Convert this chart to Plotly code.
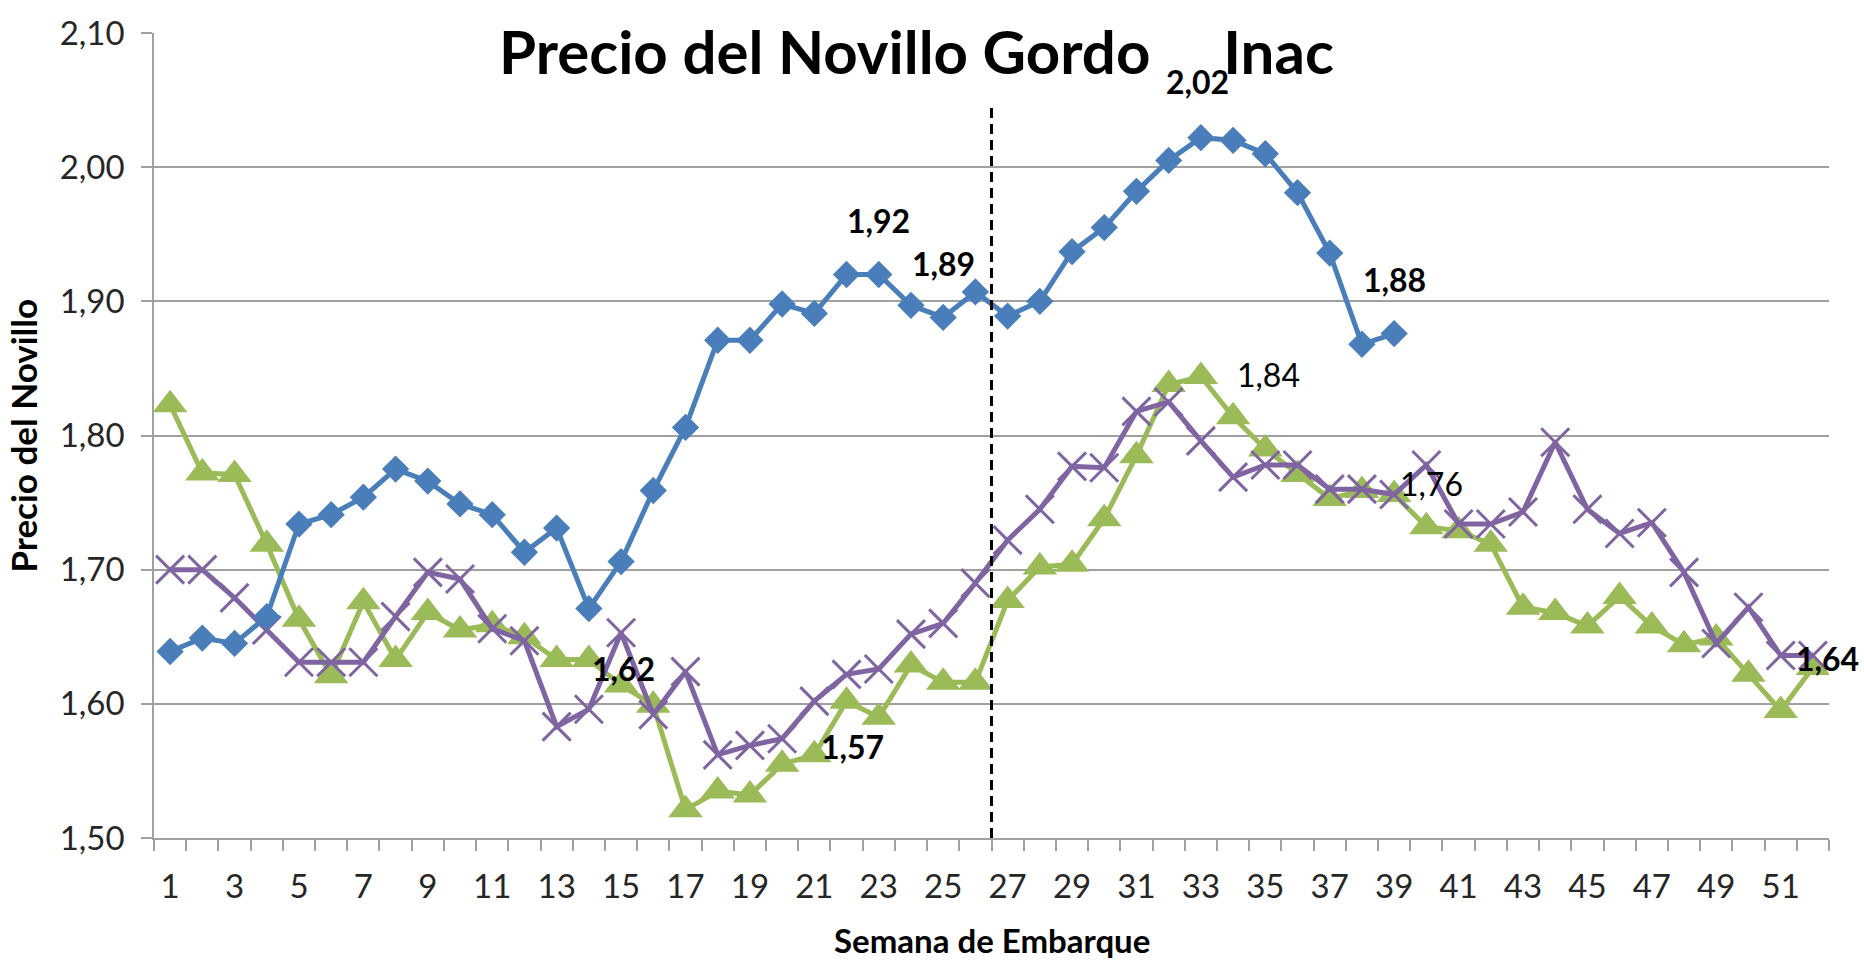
import plotly.graph_objects as go

# ---- data ----
weeks = list(range(1, 53))
tick_weeks = list(range(1, 52, 2))

serie_azul = [1.639, 1.649, 1.645, 1.665, 1.734, 1.741, 1.754, 1.775, 1.766, 1.749,
              1.741, 1.713, 1.731, 1.671, 1.706, 1.759, 1.806, 1.871, 1.871, 1.898,
              1.891, 1.920, 1.920, 1.897, 1.888, 1.907, 1.889, 1.900, 1.937, 1.955,
              1.982, 2.005, 2.022, 2.020, 2.010, 1.981, 1.936, 1.868, 1.876]

serie_verde = [1.823, 1.772, 1.771, 1.719, 1.663, 1.621, 1.676, 1.633, 1.668, 1.655,
               1.659, 1.650, 1.633, 1.633, 1.614, 1.599, 1.521, 1.535, 1.532, 1.555,
               1.562, 1.602, 1.590, 1.629, 1.616, 1.616, 1.677, 1.702, 1.704, 1.738,
               1.785, 1.838, 1.844, 1.814, 1.790, 1.771, 1.753, 1.759, 1.756, 1.732,
               1.729, 1.719, 1.672, 1.668, 1.658, 1.680, 1.658, 1.644, 1.649, 1.622,
               1.595, 1.627]

serie_violeta = [1.700, 1.700, 1.679, 1.655, 1.631, 1.631, 1.631, 1.665, 1.698, 1.693,
                 1.656, 1.647, 1.583, 1.596, 1.653, 1.592, 1.624, 1.562, 1.569, 1.574,
                 1.602, 1.622, 1.626, 1.652, 1.660, 1.690, 1.722, 1.745, 1.777, 1.776,
                 1.818, 1.825, 1.796, 1.769, 1.778, 1.778, 1.760, 1.760, 1.756, 1.778,
                 1.734, 1.734, 1.743, 1.795, 1.745, 1.727, 1.735, 1.698, 1.645, 1.672,
                 1.636, 1.636]

# data labels: (series, week, text)
label_series = ["azul", "azul", "azul", "azul", "verde", "verde", "verde", "verde", "violeta"]
label_weeks = [23, 25, 33, 39, 33, 39, 15, 21, 52]
label_texts = ["1,92", "1,89", "2,02", "1,88", "1,84", "1,76", "1,62", "1,57", "1,64"]

divider_week = 26.5
divider_top = 2.045

title_text = "Precio del Novillo Gordo" + "\u00a0" * 5 + "Inac"
x_title = "Semana de Embarque"
y_title = "Precio del Novillo"

# ---- styles ----
BLUE = "#4A7EBB"
GREEN = "#9BBB59"
PURPLE = "#8064A2"
GRID = "#A0A0A0"
FONT = "Lato"
series_map = {"azul": serie_azul, "verde": serie_verde, "violeta": serie_violeta}
# label offsets in px (xshift, yshift) and bold flags
label_shift = [(0, 54), (0, 54), (-3, 56), (0, 54), (68, 2), (37, 11), (2, 17), (38, 8), (15, -3)]
label_bold = [True, True, True, True, False, False, True, True, True]

fig = go.Figure()

fig.add_trace(go.Scatter(
    x=weeks[:len(serie_verde)], y=serie_verde, mode="lines+markers",
    line=dict(color=GREEN, width=5),
    marker=dict(symbol="triangle-up", size=30, color=GREEN),
    showlegend=False, hoverinfo="skip"))

fig.add_trace(go.Scatter(
    x=weeks[:len(serie_violeta)], y=serie_violeta, mode="lines+markers",
    line=dict(color=PURPLE, width=5),
    marker=dict(symbol="x-thin-open", size=28, color=PURPLE,
                line=dict(color=PURPLE, width=3)),
    showlegend=False, hoverinfo="skip"))

fig.add_trace(go.Scatter(
    x=weeks[:len(serie_azul)], y=serie_azul, mode="lines+markers",
    line=dict(color=BLUE, width=5),
    marker=dict(symbol="diamond", size=21, color=BLUE),
    showlegend=False, hoverinfo="skip"))

# dashed divider
fig.add_shape(type="line", xref="x", yref="y",
              x0=divider_week, x1=divider_week, y0=1.5, y1=divider_top,
              line=dict(color="black", width=3, dash="10px,6px"))

annotations = []
for s, w, t, (dx, dy), b in zip(label_series, label_weeks, label_texts, label_shift, label_bold):
    yv = series_map[s][w - 1]
    annotations.append(dict(
        x=w, y=yv, xref="x", yref="y", text=f"<b>{t}</b>" if b else t,
        showarrow=False, xshift=dx, yshift=dy,
        font=dict(family=FONT, size=32, color="black"),
        xanchor="center", yanchor="middle"))

# chart title
annotations.append(dict(
    x=0.2048, y=0.978, xref="paper", yref="paper", text=f"<b>{title_text}</b>",
    showarrow=False, xanchor="left", yanchor="middle",
    font=dict(family=FONT, size=60, color="black")))
# axis titles
annotations.append(dict(
    x=0.5, y=-0.1265, xref="paper", yref="paper", text=f"<b>{x_title}</b>",
    showarrow=False, xanchor="center", yanchor="middle",
    font=dict(family=FONT, size=33, color="black")))
annotations.append(dict(
    x=-0.0788, y=0.5, xref="paper", yref="paper", text=f"<b>{y_title}</b>",
    showarrow=False, xanchor="center", yanchor="middle", textangle=-90,
    font=dict(family=FONT, size=35, color="black")))

fig.update_layout(
    width=1864, height=965,
    margin=dict(l=154, r=35, t=24, b=127),
    paper_bgcolor="white", plot_bgcolor="white",
    separators=",.",
    annotations=annotations,
    xaxis=dict(
        range=[0.5, 52.5], tickmode="array", tickvals=tick_weeks,
        ticktext=[str(w) for w in tick_weeks], ticks="",
        showline=True, linecolor=GRID, linewidth=1.5,
        showgrid=False, zeroline=False,
        tickfont=dict(family=FONT, size=33, color="#262626"),
        ticklabelstandoff=19,
        minor=dict(tickmode="array", tickvals=[w - 0.5 for w in weeks] + [52.5],
                   ticks="outside", ticklen=11, tickcolor=GRID, tickwidth=1.5,
                   showgrid=False),
    ),
    yaxis=dict(
        range=[1.5, 2.1], tickmode="linear", tick0=1.5, dtick=0.1,
        tickformat=".2f", ticks="outside", ticklen=11, tickcolor=GRID, tickwidth=1.5,
        showline=True, linecolor=GRID, linewidth=1.5,
        showgrid=True, gridcolor=GRID, gridwidth=1.5, zeroline=False,
        tickfont=dict(family=FONT, size=33, color="#262626"),
        ticklabelstandoff=10,
    ),
)

fig.write_html("out.html", config={"displayModeBar": False},
               post_script="document.body.style.margin='0';document.body.style.overflow='hidden';")
